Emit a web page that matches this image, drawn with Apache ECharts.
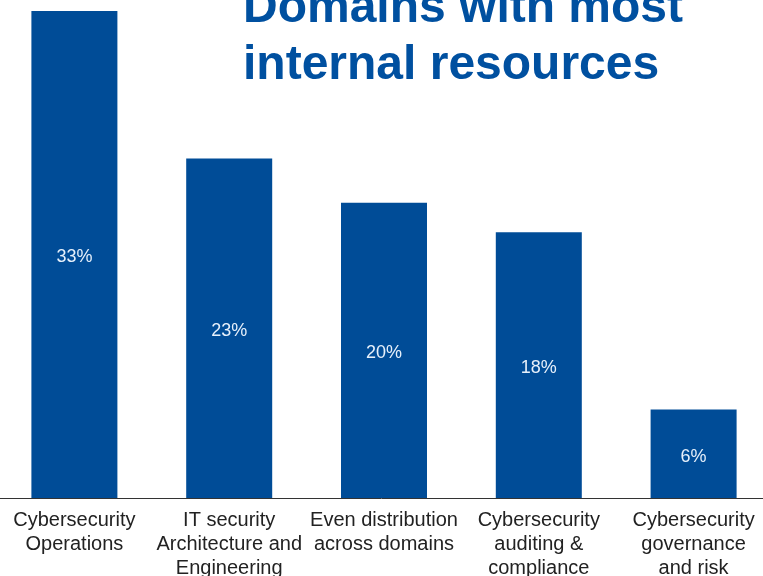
<!DOCTYPE html>
<html>
<head>
<meta charset="utf-8">
<script src="https://cdn.jsdelivr.net/npm/echarts@6/dist/echarts.min.js"></script>
<style>
  html, body { margin: 0; padding: 0; background: #ffffff; }
  #chart { width: 763px; height: 576px; }
</style>
</head>
<body>
<div id="chart"></div>
<script>
// Share of respondents by the domain that gets the most internal resources
const categories = [
  'Cybersecurity\nOperations',
  'IT security\nArchitecture and\nEngineering',
  'Even distribution\nacross domains',
  'Cybersecurity\nauditing &\ncompliance',
  'Cybersecurity\ngovernance\nand risk'
];
const shares = [33, 23, 20, 18, 6];
const titleText = 'Domains with most\ninternal resources';

const chart = echarts.init(document.getElementById('chart'), null, { renderer: 'canvas' });

chart.setOption({
  backgroundColor: '#ffffff',
  animation: false,
  title: {
    text: titleText,
    left: 243,
    top: -20,
    padding: 0,
    textStyle: {
      fontFamily: '"Liberation Sans", Arial, sans-serif',
      fontWeight: 'bold',
      fontSize: 48,
      lineHeight: 57,
      color: '#0050a0'
    }
  },
  grid: {
    left: -3, width: 774, top: 11, height: 487,
    containLabel: false,
    outerBoundsMode: 'none'
  },
  xAxis: {
    type: 'category',
    data: categories,
    axisTick: { show: false },
    axisLine: { show: true, lineStyle: { color: '#333333', width: 1 } },
    axisLabel: {
      interval: 0,
      margin: 10,
      fontFamily: '"Liberation Sans", Arial, sans-serif',
      fontSize: 20,
      lineHeight: 24,
      color: '#222222'
    }
  },
  yAxis: {
    type: 'value',
    min: 0,
    max: 33,
    show: false,
    splitLine: { show: false }
  },
  series: [{
    type: 'bar',
    data: shares,
    barWidth: 86,
    itemStyle: { color: '#004c97' },
    label: {
      show: true,
      position: 'inside',
      offset: [0, 3],
      formatter: '{c}%',
      fontFamily: '"Liberation Sans", Arial, sans-serif',
      fontSize: 18,
      color: '#e6f0fb'
    }
  }]
});
</script>
</body>
</html>
